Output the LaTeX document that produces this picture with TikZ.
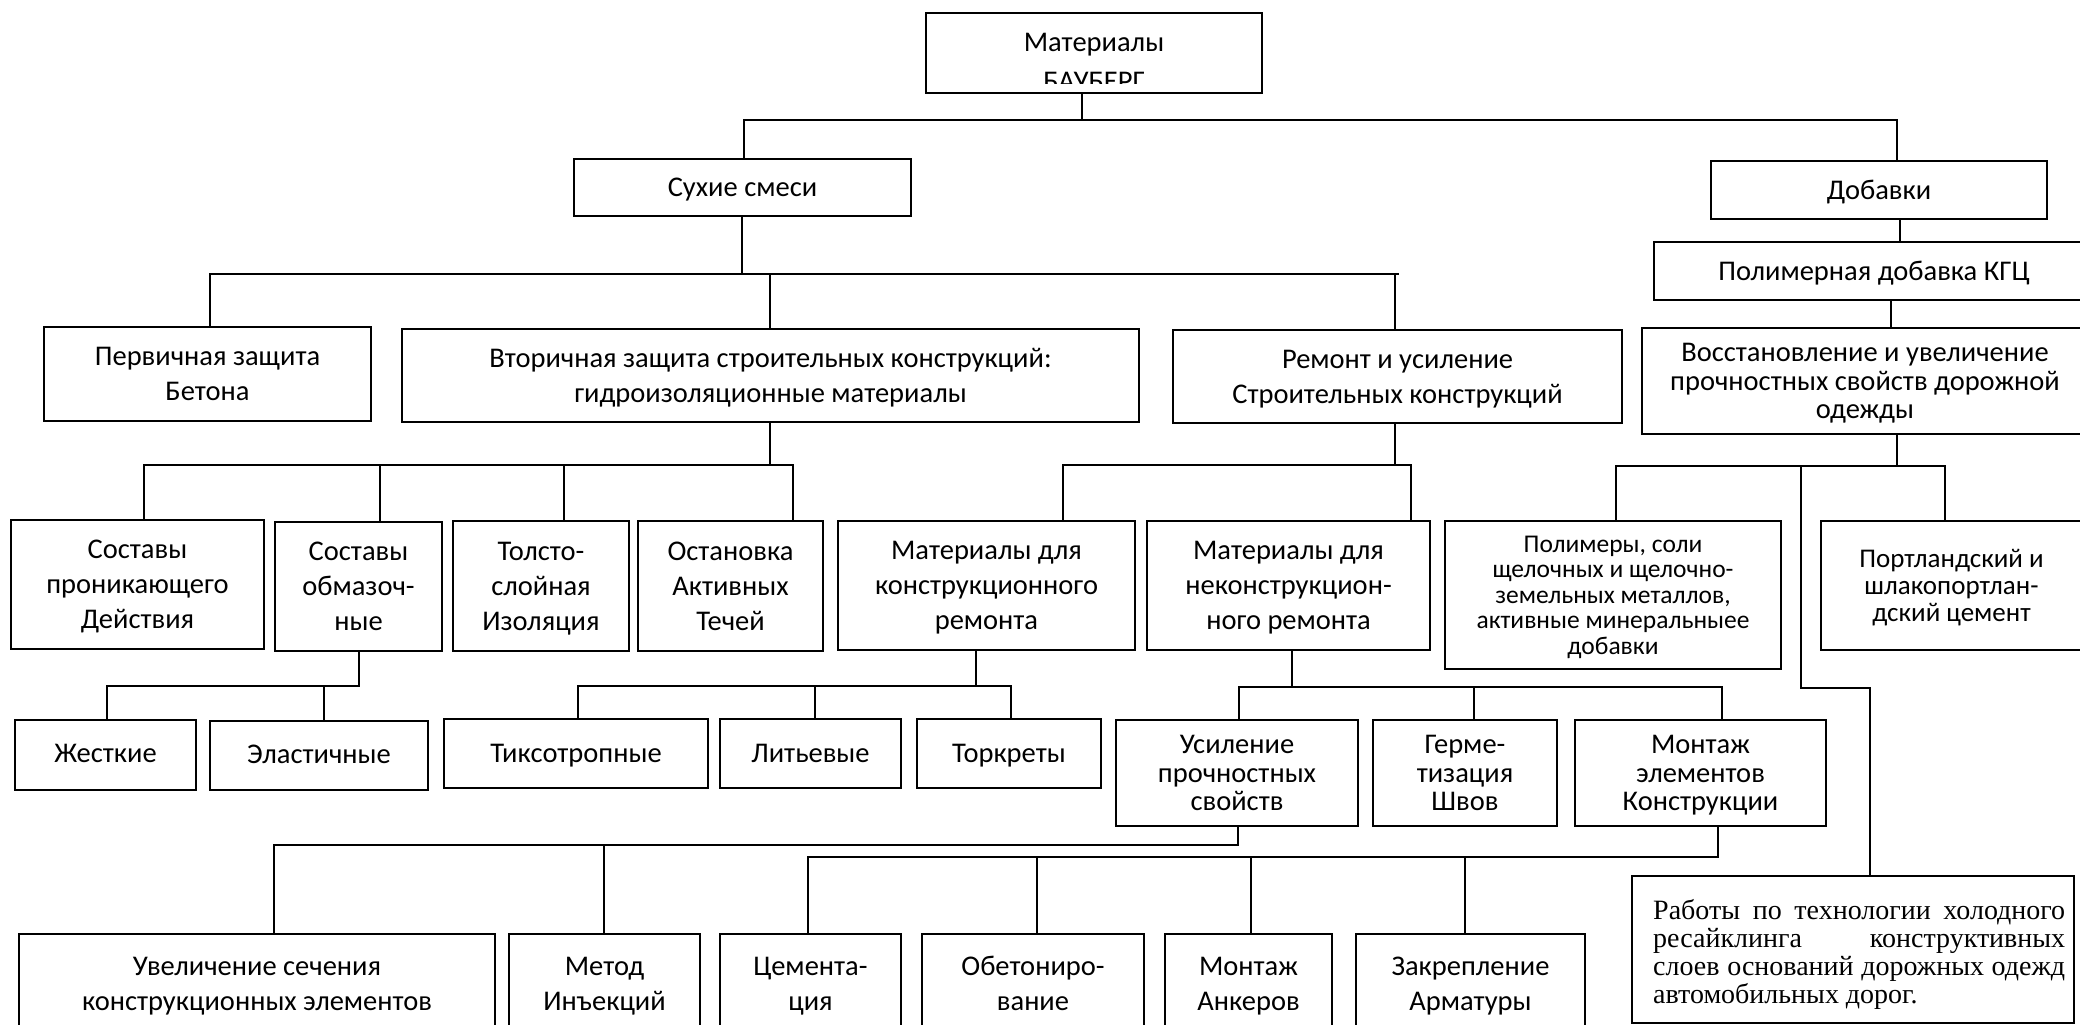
\documentclass[tikz,border=0pt]{standalone}
\usepackage{fontspec}
\setmainfont{Carlito}
\newfontfamily\tnr{Liberation Serif}
\newcommand\fsz[2]{\fontsize{#1}{#2}\selectfont}
\tikzset{
  box/.style={draw, line width=2pt, align=center, inner sep=0pt, text depth=0pt, font=\fsz{28.5}{35}},
  conn/.style={line width=1.6pt, line cap=rect},
  busline/.style={line width=2.2pt, line cap=rect}
}
\newcommand\bx[7][]{\node[box,minimum width={#5-#3},minimum height={#6-#4},#1] (#2) at ({(#3+#5)/2},{(#4+#6)/2}) {#7};}
\newcommand\tree[6]{%
  \coordinate (tp) at (#2,#3);
  \coordinate (bl) at (#4,#3);
  \coordinate (br) at (#5,#3);
  \draw[conn] (tp |- #1.south) -- (tp);
  \draw[busline] (bl) -- (br);
  \foreach \c/\x in {#6}{\coordinate (tc) at (\x,#3); \draw[conn] (tc) -- (tc |- \c.north);}
}
\newcommand\vlink[3]{\coordinate (vl) at (#3,0); \draw[conn] (vl |- #1.south) -- (vl |- #2.north);}
\begin{document}
\begin{tikzpicture}[x=1pt,y=-1pt]
\clip (0,0) rectangle (2080,1025);
\fill[white] (0,0) rectangle (2080,1025);
% top
\bx{top}{926}{13}{1262}{93}{}
\begin{scope}
\clip (926,13) rectangle (1262,83);
\node[font=\fsz{28.5}{35},anchor=base,inner sep=0pt] (tl1) at (1094,52) {Материалы};
\node[font=\fsz{28.5}{35},anchor=base,inner sep=0pt] (tl2) at (1094,91) {БАУБЕРГ};
\end{scope}
% level 2
\bx{sux}{574}{159}{911}{216}{Сухие смеси}
\bx{dob}{1711}{161}{2047}{219}{Добавки}
\bx{kgc}{1654}{242}{2094}{300}{Полимерная добавка КГЦ}
% level 3
\bx{per}{44}{327}{371}{421}{Первичная защита\\Бетона}
\bx{vto}{402}{329}{1139}{422}{Вторичная защита строительных конструкций:\\гидроизоляционные материалы}
\bx{rem}{1173}{330}{1622}{423}{Ремонт и усиление\\Строительных конструкций}
\bx[font=\fsz{28.5}{28.5}]{vos}{1642}{328}{2088}{434}{Восстановление и увеличение\\прочностных свойств дорожной\\одежды}
% level 4
\bx{sp}{11}{520}{264}{649}{Составы\\проникающего\\Действия}
\bx{so}{275}{522}{442}{651}{Составы\\обмазоч-\\ные}
\bx{tol}{453}{521}{629}{651}{Толсто-\\слойная\\Изоляция}
\bx{ost}{638}{521}{823}{651}{Остановка\\Активных\\Течей}
\bx{mk}{838}{521}{1135}{650}{Материалы для\\конструкционного\\ремонта}
\bx{mnk}{1147}{521}{1430}{650}{Материалы для\\неконструкцион-\\ного ремонта}
\bx[font=\fsz{25.5}{25.5}]{pol}{1445}{521}{1781}{669}{Полимеры, соли\\щелочных и щелочно-\\земельных металлов,\\активные минеральныее\\добавки}
\bx[font=\fsz{27}{27}]{por}{1821}{521}{2082}{650}{Портландский и\\шлакопортлан-\\дский цемент}
% level 5
\bx[text depth=3pt]{zh}{15}{720}{196}{790}{Жесткие}
\bx[text depth=3pt]{el}{210}{721}{428}{790}{Эластичные}
\bx{tik}{444}{719}{708}{788}{Тиксотропные}
\bx{lit}{720}{719}{901}{788}{Литьевые}
\bx{tor}{917}{719}{1101}{788}{Торкреты}
\bx[font=\fsz{28.5}{28.5}]{us}{1116}{720}{1358}{826}{Усиление\\прочностных\\свойств}
\bx[font=\fsz{28.5}{28.5}]{ger}{1373}{720}{1557}{826}{Герме-\\тизация\\Швов}
\bx[font=\fsz{28.5}{28.5}]{mon}{1575}{720}{1826}{826}{Монтаж\\элементов\\Конструкции}
% level 6
\bx{uv}{19}{934}{495}{1033}{Увеличение сечения\\конструкционных элементов}
\bx{met}{509}{934}{700}{1033}{Метод\\Инъекций}
\bx{cem}{720}{934}{901}{1033}{Цемента-\\ция}
\bx{obe}{922}{934}{1144}{1033}{Обетониро-\\вание}
\bx{anc}{1165}{934}{1332}{1033}{Монтаж\\Анкеров}
\bx{zak}{1356}{934}{1585}{1033}{Закрепление\\Арматуры}
\bx{rab}{1632}{876}{2074}{1023}{}
\node[font=\tnr\fsz{28}{28},align=left,inner sep=0pt,anchor=north west] (rabt) at (1653,899)
 {\makebox[412pt][s]{Работы по технологии холодного}\\
  \makebox[412pt][s]{ресайклинга \hfill конструктивных}\\
  \makebox[412pt][s]{слоев оснований дорожных одежд}\\
  \makebox[412pt][l]{автомобильных дорог.}};
% connectors
\tree{top}{1082}{120}{744}{1897}{sux/744,dob/1897}
\tree{sux}{742}{274}{210}{1398}{per/210,vto/770,rem/1395}
\vlink{dob}{kgc}{1900}
\vlink{kgc}{vos}{1891}
\tree{vto}{770}{465}{144}{793}{sp/144,so/380,tol/564,ost/793}
\tree{rem}{1395}{465}{1063}{1411}{mk/1063,mnk/1411}
\tree{vos}{1897}{466}{1616}{1945}{pol/1616,por/1945}
\coordinate (r1) at (1801,466);
\coordinate (r2) at (1870,688);
\draw[conn] (r1) |- (r2) -- (r2 |- rab.north);
\tree{so}{359}{686}{107}{359}{zh/107,el/324}
\tree{mk}{976}{686}{578}{1011}{tik/578,lit/815,tor/1011}
\tree{mnk}{1292}{687}{1239}{1722}{us/1239,ger/1474,mon/1722}
\tree{us}{1238}{845}{274}{1238}{uv/274,met/604}
\tree{mon}{1718}{857}{808}{1718}{cem/808,obe/1037,anc/1251,zak/1465}
\end{tikzpicture}
\end{document}
